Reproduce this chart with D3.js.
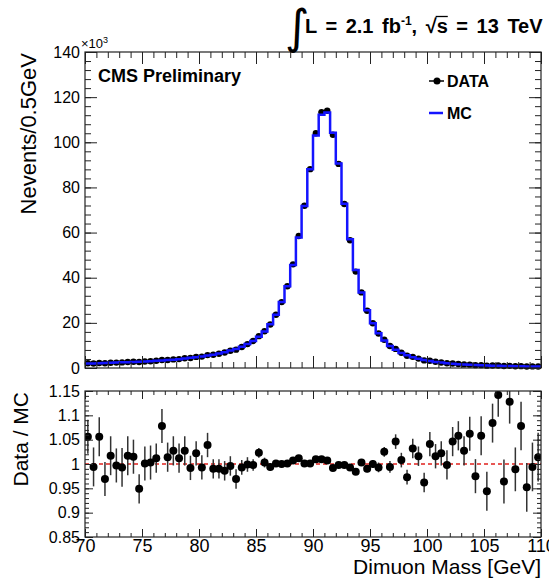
<!DOCTYPE html>
<html>
<head>
<meta charset="utf-8">
<script src="https://cdn.jsdelivr.net/npm/d3@7"></script>
<style>
  body { margin: 0; background: #fff; }
  svg { display: block; }
  text { font-family: "Liberation Sans", Arial, Helvetica, sans-serif; fill: #000; }
  .axis path { display: none; }
  .axis line { stroke: #222; }
</style>
</head>
<body>
<svg width="549" height="587"></svg>
<script>
// bins: 0.5 GeV from 70 to 110
var binEdges = d3.range(70, 110.001, 0.5);

// MC prediction, in 10^3 events per bin
var mcCounts = [
  2.0, 2.0, 2.1, 2.2, 2.3, 2.4, 2.5, 2.6, 2.7, 2.8,
  2.9, 3.0, 3.2, 3.3, 3.5, 3.7, 3.9, 4.2, 4.5, 4.8,
  5.1, 5.5, 5.9, 6.4, 7.0, 7.7, 8.4, 9.4, 10.6, 12.0,
  13.8, 16.2, 19.4, 23.6, 29.2, 36.2, 45.6, 57.8, 71.8, 88.0,
  103.0, 112.2, 113.2, 104.2, 90.6, 72.8, 57.0, 43.4, 33.4, 25.6,
  19.8, 15.4, 12.2, 9.8, 8.1, 6.7, 5.6, 4.8, 4.1, 3.5,
  3.1, 2.7, 2.4, 2.1, 1.9, 1.7, 1.55, 1.4, 1.3, 1.2,
  1.1, 1.0, 0.95, 0.9, 0.85, 0.8, 0.75, 0.72, 0.7, 0.67
];

// observed data, in 10^3 events per bin
var dataCounts = [
  2.11, 1.99, 2.22, 2.13, 2.34, 2.39, 2.48, 2.64, 2.74, 2.66,
  2.90, 3.01, 3.24, 3.56, 3.55, 3.80, 3.95, 4.31, 4.46, 4.91,
  5.06, 5.71, 5.84, 6.34, 6.90, 7.67, 8.14, 9.33, 10.59, 11.98,
  14.12, 16.25, 19.28, 23.62, 29.2, 36.24, 45.92, 58.49, 71.87, 88.09,
  104.03, 113.32, 113.99, 103.37, 90.42, 72.65, 56.60, 42.71, 33.50, 25.34,
  19.8, 15.29, 12.51, 9.74, 8.47, 6.75, 5.45, 4.95, 4.17, 3.37,
  3.23, 2.74, 2.45, 2.10, 1.99, 1.80, 1.59, 1.49, 1.27, 1.27,
  1.04, 1.08, 1.08, 0.87, 0.96, 0.79, 0.81, 0.69, 0.70, 0.68
];

// data / MC ratio and its uncertainty
var ratio = [
  1.056, 0.994, 1.056, 0.969, 1.017, 0.997, 0.993, 1.017, 1.015, 0.949,
  1.001, 1.003, 1.012, 1.078, 1.014, 1.027, 1.012, 1.027, 0.992, 1.022,
  0.993, 1.039, 0.990, 0.990, 0.986, 0.996, 0.969, 0.993, 0.999, 0.998,
  1.023, 1.003, 0.994, 1.001, 1.000, 1.001, 1.007, 1.012, 1.001, 1.001,
  1.010, 1.010, 1.007, 0.992, 0.998, 0.998, 0.993, 0.984, 1.003, 0.990,
  1.000, 0.993, 1.025, 0.994, 1.046, 1.008, 0.973, 1.032, 1.016, 0.962,
  1.041, 1.016, 1.022, 0.998, 1.046, 1.058, 1.027, 1.062, 0.975, 1.058,
  0.944, 1.084, 1.142, 0.964, 1.128, 0.989, 1.078, 0.952, 0.994, 1.014
];
var ratioErr = [
  0.035, 0.04, 0.04, 0.035, 0.04, 0.035, 0.04, 0.04, 0.035, 0.03,
  0.035, 0.035, 0.03, 0.035, 0.03, 0.03, 0.03, 0.03, 0.025, 0.025,
  0.025, 0.025, 0.02, 0.02, 0.02, 0.02, 0.02, 0.015, 0.015, 0.012,
  0.01, 0.01, 0.008, 0.007, 0.006, 0.005, 0.004, 0.004, 0.003, 0.003,
  0.003, 0.003, 0.003, 0.003, 0.003, 0.004, 0.004, 0.005, 0.006, 0.007,
  0.008, 0.01, 0.01, 0.012, 0.015, 0.015, 0.015, 0.02, 0.02, 0.02,
  0.025, 0.025, 0.025, 0.03, 0.03, 0.03, 0.03, 0.035, 0.035, 0.04,
  0.04, 0.04, 0.045, 0.045, 0.045, 0.045, 0.05, 0.05, 0.05, 0.05
];

var xMajor = d3.range(70, 110.001, 5);
var xMinor = d3.range(70, 110.001, 1);
var yTopMajor = [0, 20, 40, 60, 80, 100, 120, 140];
var yTopMinor = d3.range(0, 140.001, 4);
var yRatMajor = [0.85, 0.9, 0.95, 1, 1.05, 1.1, 1.15];
var yRatMinor = d3.range(0.85, 1.1501, 0.01);

var svg = d3.select("svg");

var left = 85, right = 541;
var x = d3.scaleLinear().domain([70, 110]).range([left, right]);
var yTop = d3.scaleLinear().domain([0, 140]).range([368, 52]);
var yRat = d3.scaleLinear().domain([0.85, 1.15]).range([537, 391]);

var bins = mcCounts.map(function(d, i) {
    return {
        lo: binEdges[i], hi: binEdges[i + 1],
        mid: (binEdges[i] + binEdges[i + 1]) / 2,
        mc: d, data: dataCounts[i], r: ratio[i], e: ratioErr[i]
    };
});

// ---------- top panel ----------
var topPanel = svg.append("g");

topPanel.append("g").selectAll("line")
    .data(bins)
    .enter().append("line")
    .attr("x1", function(d) { return x(d.lo); })
    .attr("x2", function(d) { return x(d.hi); })
    .attr("y1", function(d) { return yTop(d.data); })
    .attr("y2", function(d) { return yTop(d.data); })
    .attr("stroke", "#000")
    .attr("stroke-width", 2.5);

topPanel.append("g").selectAll("circle")
    .data(bins)
    .enter().append("circle")
    .attr("cx", function(d) { return x(d.mid); })
    .attr("cy", function(d) { return yTop(d.data); })
    .attr("r", 3.2)
    .attr("fill", "#000");

var step = d3.line()
    .x(function(d) { return x(d[0]); })
    .y(function(d) { return yTop(d[1]); })
    .curve(d3.curveStepAfter);

var stepPts = bins.map(function(d) { return [d.lo, d.mc]; });
stepPts.push([110, mcCounts[mcCounts.length - 1]]);

topPanel.append("path")
    .attr("d", step(stepPts))
    .attr("fill", "none")
    .attr("stroke", "#1414ff")
    .attr("stroke-width", 2.5);

function drawAxes(yScale, yMajor, yMinor, yTickFmt, majLen, minLen, yFont, showX) {
    var y0 = yScale.range()[0], y1 = yScale.range()[1];
    svg.append("g").attr("class", "axis")
        .attr("transform", "translate(0," + y0 + ")")
        .call(d3.axisBottom(x).tickValues(xMinor).tickSize(-minLen).tickFormat(""));
    var xb = svg.append("g").attr("class", "axis")
        .attr("transform", "translate(0," + y0 + ")")
        .call(d3.axisBottom(x).tickValues(xMajor).tickSize(-majLen).tickPadding(2)
            .tickFormat(showX ? d3.format("d") : ""));
    xb.selectAll("text").style("font-size", "18px");
    svg.append("g").attr("class", "axis")
        .attr("transform", "translate(0," + y1 + ")")
        .call(d3.axisTop(x).tickValues(xMinor).tickSize(-minLen).tickFormat(""));
    svg.append("g").attr("class", "axis")
        .attr("transform", "translate(0," + y1 + ")")
        .call(d3.axisTop(x).tickValues(xMajor).tickSize(-majLen).tickFormat(""));

    svg.append("g").attr("class", "axis")
        .attr("transform", "translate(" + left + ",0)")
        .call(d3.axisLeft(yScale).tickValues(yMinor).tickSize(-minLen).tickFormat(""));
    var yl = svg.append("g").attr("class", "axis")
        .attr("transform", "translate(" + left + ",0)")
        .call(d3.axisLeft(yScale).tickValues(yMajor).tickSize(-majLen).tickPadding(5)
            .tickFormat(yTickFmt));
    yl.selectAll("text").style("font-size", yFont + "px");
    svg.append("g").attr("class", "axis")
        .attr("transform", "translate(" + right + ",0)")
        .call(d3.axisRight(yScale).tickValues(yMinor).tickSize(-minLen).tickFormat(""));
    svg.append("g").attr("class", "axis")
        .attr("transform", "translate(" + right + ",0)")
        .call(d3.axisRight(yScale).tickValues(yMajor).tickSize(-majLen).tickFormat(""));

    svg.append("rect")
        .attr("x", left).attr("y", y1)
        .attr("width", right - left).attr("height", y0 - y1)
        .attr("fill", "none").attr("stroke", "#222").attr("stroke-width", 1.2);
}

drawAxes(yTop, yTopMajor, yTopMinor, d3.format("d"), 12, 6, 16, false);

// ---------- ratio panel ----------
svg.append("clipPath").attr("id", "ratClip")
    .append("rect").attr("x", left).attr("y", 391)
    .attr("width", right - left).attr("height", 146);

var rat = svg.append("g").attr("clip-path", "url(#ratClip)");

rat.append("line")
    .attr("x1", x(70)).attr("x2", x(110))
    .attr("y1", yRat(1)).attr("y2", yRat(1))
    .attr("stroke", "#e0201c")
    .attr("stroke-width", 1.5)
    .attr("stroke-dasharray", "4,3");

rat.append("g").selectAll("line")
    .data(bins)
    .enter().append("line")
    .attr("x1", function(d) { return x(d.mid); })
    .attr("x2", function(d) { return x(d.mid); })
    .attr("y1", function(d) { return yRat(d.r - d.e); })
    .attr("y2", function(d) { return yRat(d.r + d.e); })
    .attr("stroke", "#333")
    .attr("stroke-width", 1.5);

rat.append("g").selectAll("line")
    .data(bins)
    .enter().append("line")
    .attr("x1", function(d) { return x(d.lo); })
    .attr("x2", function(d) { return x(d.hi); })
    .attr("y1", function(d) { return yRat(d.r); })
    .attr("y2", function(d) { return yRat(d.r); })
    .attr("stroke", "#000")
    .attr("stroke-width", 2);

rat.append("g").selectAll("circle")
    .data(bins)
    .enter().append("circle")
    .attr("cx", function(d) { return x(d.mid); })
    .attr("cy", function(d) { return yRat(d.r); })
    .attr("r", 4)
    .attr("fill", "#000");

drawAxes(yRat, yRatMajor, yRatMinor, function(d) { return String(d); }, 8, 4, 16, true);

// ---------- labels ----------
svg.append("text")
    .attr("transform", "translate(36,53) rotate(-90)")
    .attr("text-anchor", "end")
    .style("font-size", "22px")
    .text("Nevents/0.5GeV");

svg.append("text")
    .attr("transform", "translate(28,392) rotate(-90)")
    .attr("text-anchor", "end")
    .style("font-size", "21px")
    .text("Data / MC");

svg.append("text")
    .attr("x", right).attr("y", 574)
    .attr("text-anchor", "end")
    .style("font-size", "21px")
    .text("Dimuon Mass [GeV]");

var mult = svg.append("text").attr("x", 81).attr("y", 48).style("font-size", "13px");
mult.append("tspan").text("\u00d710");
mult.append("tspan").attr("dy", -5).style("font-size", "9px").text("3");

svg.append("text")
    .attr("x", 98).attr("y", 82)
    .style("font-size", "18px").style("font-weight", "bold")
    .text("CMS Preliminary");

// legend
svg.append("line").attr("x1", 429).attr("x2", 444).attr("y1", 81).attr("y2", 81)
    .attr("stroke", "#000").attr("stroke-width", 1.5);
svg.append("circle").attr("cx", 437).attr("cy", 81).attr("r", 3.5).attr("fill", "#000");
svg.append("text").attr("x", 447).attr("y", 87)
    .style("font-size", "16px").style("font-weight", "bold").text("DATA");
svg.append("line").attr("x1", 429).attr("x2", 443).attr("y1", 113).attr("y2", 113)
    .attr("stroke", "#1414ff").attr("stroke-width", 2.5);
svg.append("text").attr("x", 447).attr("y", 119)
    .style("font-size", "16px").style("font-weight", "bold").text("MC");

// lumi / energy header
svg.append("text")
    .attr("x", 285).attr("y", 43)
    .style("font-family", "'DejaVu Sans', sans-serif")
    .style("font-size", "47px")
    .text("\u222b");

var head = svg.append("text")
    .attr("x", 305).attr("y", 33)
    .style("font-size", "20px").style("font-weight", "bold")
    .style("word-spacing", "3px");
head.append("tspan").text("L = 2.1 fb");
head.append("tspan").attr("dy", -8).style("font-size", "12px").text("-1");
head.append("tspan").attr("dy", 8).text(", \u221a");
head.append("tspan").text("s");
head.append("tspan").text(" = 13 TeV");

// overline on the s of sqrt(s)
var node = head.node();
var full = node.textContent;
var si = full.indexOf("\u221a") + 1;
var sx = node.getStartPositionOfChar(si).x;
var sw = node.getSubStringLength(si, 1);
svg.append("line")
    .attr("x1", sx - 1).attr("x2", sx + sw)
    .attr("y1", 16.5).attr("y2", 16.5)
    .attr("stroke", "#000").attr("stroke-width", 1.3);
</script>
</body>
</html>
